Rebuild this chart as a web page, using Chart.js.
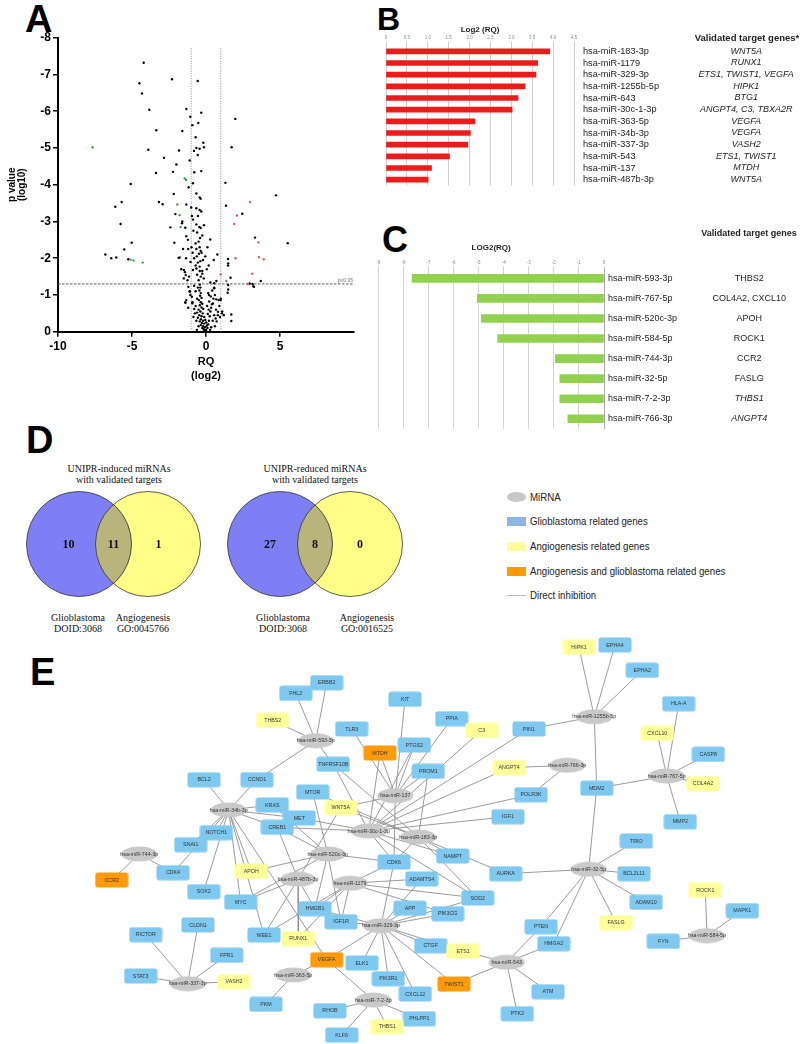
<!DOCTYPE html>
<html>
<head>
<meta charset="utf-8">
<script src="https://cdn.jsdelivr.net/npm/chart.js@4.4.0/dist/chart.umd.min.js"></script>
<style>
body{margin:0;background:#fff;width:800px;height:1044px;position:relative;overflow:hidden;font-family:"Liberation Sans",Arial,sans-serif;color:#222;}
canvas{position:absolute;}
.letter{position:absolute;font-weight:bold;line-height:1;color:#000;font-family:"Liberation Sans",Arial,sans-serif;}
.t{position:absolute;white-space:nowrap;transform:translate(-50%,-50%);}
.serif{font-family:"Liberation Serif","Times New Roman",serif;font-size:10px;color:#111;}
.hdr{font-weight:bold;}
.leg{position:absolute;left:507px;font-size:11px;font-family:"Liberation Sans Narrow","Liberation Sans",Arial,sans-serif;color:#222;}
.leg i{position:absolute;left:0;display:block;}
.leg span{position:absolute;left:23px;white-space:nowrap;transform:translateY(-50%) scaleX(0.88);transform-origin:left center;}
</style>
</head>
<body>

<div class="letter" style="left:25px;top:0px;font-size:38px;">A</div>
<div class="letter" style="left:377px;top:3px;font-size:32px;">B</div>
<div class="letter" style="left:382px;top:222px;font-size:36px;">C</div>
<div class="letter" style="left:26px;top:421px;font-size:38px;">D</div>
<div class="letter" style="left:30px;top:653px;font-size:38px;">E</div>

<canvas id="volcano" width="370" height="385" style="left:0;top:0;"></canvas>
<canvas id="barsUp" width="430" height="200" style="left:370px;top:0;"></canvas>
<canvas id="barsDown" width="440" height="220" style="left:360px;top:220px;"></canvas>
<canvas id="venn" width="420" height="120" style="left:0;top:485px;"></canvas>
<canvas id="network" width="690" height="409" style="left:90px;top:635px;"></canvas>

<div class="t hdr" style="left:747px;top:37px;font-size:9.5px;">Validated target genes*</div>
<div class="t hdr" style="left:749px;top:233px;font-size:9px;">Validated target genes</div>

<div class="t serif" style="left:119px;top:468px;">UNIPR-induced miRNAs</div>
<div class="t serif" style="left:119px;top:479px;">with validated targets</div>
<div class="t serif" style="left:315px;top:468px;">UNIPR-reduced miRNAs</div>
<div class="t serif" style="left:315px;top:479px;">with validated targets</div>
<div class="t serif" style="left:78px;top:617px;">Glioblastoma</div>
<div class="t serif" style="left:78px;top:628px;">DOID:3068</div>
<div class="t serif" style="left:143px;top:617px;">Angiogenesis</div>
<div class="t serif" style="left:143px;top:628px;">GO:0045766</div>
<div class="t serif" style="left:283px;top:617px;">Glioblastoma</div>
<div class="t serif" style="left:283px;top:628px;">DOID:3068</div>
<div class="t serif" style="left:367px;top:617px;">Angiogenesis</div>
<div class="t serif" style="left:367px;top:628px;">GO:0016525</div>

<div class="leg" style="top:497px;"><i style="top:-5px;width:19px;height:10px;border-radius:50%;background:#c8c8c8;"></i><span>MiRNA</span></div>
<div class="leg" style="top:521px;"><i style="top:-4px;width:19px;height:9px;background:#8db4e2;"></i><span>Glioblastoma related genes</span></div>
<div class="leg" style="top:546px;"><i style="top:-4px;width:19px;height:9px;background:#ffff99;"></i><span>Angiogenesis related genes</span></div>
<div class="leg" style="top:571px;"><i style="top:-4px;width:19px;height:9px;background:#ff9900;"></i><span>Angiogenesis and glioblastoma related genes</span></div>
<div class="leg" style="top:595px;"><i style="top:0;width:19px;height:1px;background:#bbb;"></i><span>Direct inhibition</span></div>

<script>
// ---------- A: volcano (RQ log2 vs p value log10) ----------
const volcanoBlack = [
 [-4.21,-7.32],[-4.5,-6.76],[-4.32,-6.48],[-2.30,-6.87],[-0.56,-6.82],[-3.83,-6.04],[-1.33,-6.06],[-0.32,-5.96],
 [1.98,-5.79],[-1.06,-5.85],[-0.52,-5.68],[-0.92,-5.62],[-3.36,-5.48],[-1.60,-5.46],[-0.70,-5.29],[-0.18,-5.14],
 [-3.90,-4.95],[-1.82,-4.93],[-0.65,-5.0],[-0.43,-4.98],[-0.14,-5.02],[-0.81,-4.92],[-0.56,-4.81],[1.73,-5.02],
 [-2.84,-4.73],[-1.10,-4.66],[-2.0,-4.55],[-2.23,-4.35],[-3.38,-4.32],[-0.79,-4.34],[-0.32,-4.37],[-0.88,-4.04],
 [-5.09,-4.02],[1.31,-4.05],[-1.17,-3.93],[4.73,-3.71],[-2.18,-3.75],[-0.65,-3.76],[-0.43,-3.65],[-0.36,-3.62],
 [-5.70,-3.53],[-6.13,-3.40],[-3.18,-3.53],[-2.93,-3.47],[-1.33,-3.46],[1.35,-3.43],[-1.0,-3.38],[-0.65,-3.36],
 [-0.43,-3.31],[-0.32,-3.27],[2.45,-3.21],[-2.07,-3.20],[-0.95,-3.15],[-0.54,-3.15],[-1.6,-3.0],[-1.62,-2.95],
 [-5.77,-2.93],[-2.41,-2.84],[-1.40,-2.83],[-0.88,-3.05],[-0.65,-2.92],[-0.36,-2.82],[-0.14,-2.9],[3.31,-2.56],
 [5.52,-2.41],[0.29,-2.51],[-5.02,-2.42],[-2.14,-2.42],[-1.33,-2.6],[-1.22,-2.5],[-1.55,-2.25],[-1.2,-2.25],
 [-0.98,-2.3],[-0.65,-2.25],[-0.43,-2.3],[-0.36,-2.2],[-5.52,-2.24],[-6.8,-2.10],[-6.06,-2.02],[-6.4,-2.0],
 [-5.25,-1.97],[-1.85,-2.01],[0.77,-2.10],[0.52,-1.95],[1.49,-1.98],[1.49,-1.8],[0.18,-1.8],[-1.67,-1.7],
 [-1.42,-1.62],[-0.88,-1.68],[-0.65,-1.72],[-0.43,-1.77],[-0.25,-1.65],[1.66,-1.47],[0.7,-1.38],[0.55,-1.32],
 [3.2,-1.24],[3.7,-1.38],[3.15,-1.3],[-1.78,-2.02],[-1.49,-1.68],[-1.37,-1.54],[-1.19,-1.22],[-1.10,-1.09],
 [-1.06,-1.0],[-1.33,-0.86],[-1.4,-0.79],[-0.92,-0.77],[0.29,-1.34],[0.56,-1.18],[0.2,-1.0],[0.7,-0.88],
 [0.86,-0.86],[0.47,-0.77],[0.81,-0.54],[0.65,-0.36],[1.08,-0.5],[0.99,-0.86],[1.5,-1.27],[1.5,-1.15],
 [1.46,-1.06],[1.71,-0.47],[1.71,-0.29],[2.95,-1.31],[3.24,-1.22],[1.5,-1.86],
 [-0.42,-1.28],[-0.38,-1.2],[-0.45,-1.12],[-0.35,-1.05],[-0.4,-0.98],[-0.3,-0.92],[-0.48,-0.86],[-0.36,-0.8],
 [-0.25,-0.76],[-0.42,-0.72],[-0.3,-0.66],[-0.18,-0.62],[-0.5,-0.6],[-0.38,-0.55],[-0.22,-0.5],[-0.6,-0.52],
 [-0.45,-0.45],[-0.3,-0.42],[-0.12,-0.4],[-0.55,-0.38],[-0.35,-0.34],[-0.2,-0.3],[-0.05,-0.32],[-0.42,-0.28],
 [-0.28,-0.24],[-0.12,-0.22],[0.02,-0.25],[-0.35,-0.18],[-0.2,-0.15],[-0.08,-0.12],[0.05,-0.16],[-0.25,-0.1],
 [-0.15,-0.07],[0.0,-0.05],[0.1,-0.1],[-0.05,-0.02],[0.03,-0.01],[-0.1,-0.04],[0.15,-0.2],[0.2,-0.3],
 [0.25,-0.42],[0.12,-0.48],[0.3,-0.55],[0.18,-0.6],[0.35,-0.65],[0.08,-0.7],[0.4,-0.75],[0.22,-0.82],
 [0.5,-0.9],[0.32,-0.96],[0.6,-1.0],[0.15,-1.05],[0.42,-1.12],[0.55,-1.2],[-0.7,-0.7],[-0.75,-0.5],
 [-0.85,-0.4],[-0.65,-0.3],[-0.8,-0.62],[-0.92,-0.8],[-0.6,-0.9],[-0.7,-1.1],[-0.55,-1.2],[-0.8,-1.25],
 [-0.95,-0.95],[-1.1,-1.1],[-1.2,-0.65],[-1.4,-0.8],[0.45,-0.3],[0.55,-0.45],[0.68,-0.6],[0.72,-0.28],
 [0.8,-0.45],[0.6,-0.15],[0.35,-0.12],[0.28,-0.05],[-0.5,-0.15],[-0.62,-0.05],[0.9,-0.7],[1.0,-0.9],
 [1.1,-0.55],[0.95,-0.4],[1.2,-0.45],
 [-0.5,-1.4],[-0.35,-1.5],[-0.6,-1.55],[-0.25,-1.58],[-0.42,-1.65],[-0.7,-1.8],[-0.55,-1.88],[-0.38,-1.92],
 [-0.2,-1.95],[-0.8,-2.0],[-0.62,-2.05],[-0.48,-2.12],[-0.3,-2.15],[-0.9,-2.15],[-0.7,-2.4],[-0.5,-2.45],
 [-0.4,-2.55],[-0.25,-2.62],[-0.6,-2.7],[-0.85,-2.75],[-0.45,-2.85],[-1.05,-1.9],[-1.15,-1.5],[-1.25,-1.4],
 [-0.15,-1.45],[0.05,-1.7],[-0.05,-2.05],[0.1,-2.3],[-1.35,-2.0],[-1.5,-1.45]
];
const volcanoGreen = [[-7.66,-5.02],[-1.44,-4.17],[-1.35,-4.13],[-1.94,-3.46],[-1.78,-3.17],[-1.72,-2.85],
 [-5.09,-1.96],[-4.89,-1.94],[-4.28,-1.88]];
const volcanoRed = [[2.97,-3.53],[2.09,-3.16],[1.91,-2.93],[3.54,-2.43],[2.0,-2.0],[3.58,-2.03],[3.9,-1.97],
 [3.13,-1.58],[0.99,-1.56],[1.37,-1.38],[2.82,-1.3]];
const foldCut = [-1, 1];
const pCut = -1.3;
const volcanoXTicks = [-10, -5, 0, 5];

// ---------- B: UNIPR-induced miRNAs ----------
const upMirnas = ['hsa-miR-183-3p','hsa-miR-1179','hsa-miR-329-3p','hsa-miR-1255b-5p','hsa-miR-643','hsa-miR-30c-1-3p',
 'hsa-miR-363-5p','hsa-miR-34b-3p','hsa-miR-337-3p','hsa-miR-543','hsa-miR-137','hsa-miR-487b-3p'];
const upLog2RQ = [3.92, 3.63, 3.59, 3.33, 3.16, 3.02, 2.13, 2.02, 1.96, 1.52, 1.09, 1.01];
const upTargets = ['WNT5A','RUNX1','ETS1, TWIST1, VEGFA','HIPK1','BTG1','ANGPT4, C3, TBXA2R','VEGFA','VEGFA','VASH2',
 'ETS1, TWIST1','MTDH','WNT5A'];

// ---------- C: UNIPR-reduced miRNAs ----------
const downMirnas = ['hsa-miR-593-3p','hsa-miR-767-5p','hsa-miR-520c-3p','hsa-miR-584-5p','hsa-miR-744-3p',
 'hsa-miR-32-5p','hsa-miR-7-2-3p','hsa-miR-766-3p'];
const downLog2RQ = [-7.65, -5.05, -4.89, -4.24, -1.94, -1.76, -1.76, -1.44];
const downTargets = ['THBS2','COL4A2, CXCL10','APOH','ROCK1','CCR2','FASLG','THBS1','ANGPT4'];
const downTargetsItalic = [false, false, false, false, false, false, true, true];

// ---------- D: Venn counts [glioblastoma only, both, angiogenesis only] ----------
const vennCounts = [[10, 11, 1], [27, 8, 0]];

// ---------- E: network ----------
const mirnaNodes = ['hsa-miR-593-3p','hsa-miR-137','hsa-miR-34b-3p','hsa-miR-30c-1-3p','hsa-miR-183-3p',
 'hsa-miR-1255b-5p','hsa-miR-766-3p','hsa-miR-767-5p','hsa-miR-744-3p','hsa-miR-520c-3p','hsa-miR-487b-3p',
 'hsa-miR-1179','hsa-miR-329-3p','hsa-miR-337-3p','hsa-miR-363-5p','hsa-miR-7-2-3p','hsa-miR-32-5p',
 'hsa-miR-543','hsa-miR-584-5p'];
const glioGenes = ['ERBB2','FHL2','KIT','TLR3','PTGS2','PPIA','TNFRSF10B','PROM1','BCL2','CCND1','MTOR','KRAS','MET',
 'CREB1','NOTCH1','EPHA4','EPHA2','HLA-A','PIN1','CASP8','MDM2','POLR3K','IGF1','MMP2','TRIO','SNAI1','CDK4','SOX2',
 'MYC','CDK6','ADAMTS4','HMGB1','APP','IGF1R','CLDN1','RICTOR','WEE1','FPR1','CTGF','ELK1','STAT3','PIK3R1','CXCL12',
 'PKM','RHOB','PHLPP1','KLF6','NAMPT','AURKA','BCL2L11','SOD2','ADAM10','PIK3CG','MAPK1','PTEN','HMGA2','FYN','ATM','PTK2'];
const angioGenes = ['THBS2','C3','WNT5A','HIPK1','CXCL10','ANGPT4','COL4A2','APOH','RUNX1','VASH2','THBS1','ETS1','ROCK1','FASLG'];
const bothGenes = ['MTDH','CCR2','VEGFA','TWIST1'];

const mirTargets = {
 'hsa-miR-593-3p':['ERBB2','FHL2','THBS2','CCND1','TNFRSF10B'],
 'hsa-miR-137':['MTDH','TLR3','KIT','PTGS2','PPIA','PROM1','WNT5A','CDK6'],
 'hsa-miR-30c-1-3p':['C3','PIN1','ANGPT4','POLR3K','IGF1','MTDH','PTGS2','TNFRSF10B','MET','CREB1','CDK6','SOD2','NAMPT'],
 'hsa-miR-183-3p':['WNT5A','TNFRSF10B','PROM1','CDK6','NAMPT','SOD2','AURKA','MTOR'],
 'hsa-miR-34b-3p':['BCL2','CCND1','KRAS','MET','CREB1','NOTCH1','SNAI1','CDK4','SOX2','MYC','APOH','WEE1','VEGFA'],
 'hsa-miR-744-3p':['CCR2','CDK4'],
 'hsa-miR-520c-3p':['APOH','MTOR','CREB1','HMGB1','IGF1R','CDK6','KRAS','MYC'],
 'hsa-miR-487b-3p':['WNT5A','MYC','WEE1','HMGB1','CREB1','RUNX1'],
 'hsa-miR-1179':['RUNX1','CDK6','ADAMTS4','HMGB1','IGF1R','SOD2','PIK3CG','WEE1'],
 'hsa-miR-329-3p':['ETS1','TWIST1','VEGFA','CDK6','APP','PIK3CG','CTGF','ELK1','PIK3R1','CXCL12','IGF1R','SOD2','ADAMTS4','HMGB1'],
 'hsa-miR-363-5p':['VEGFA','PKM'],
 'hsa-miR-7-2-3p':['VEGFA','RHOB','KLF6','THBS1','PHLPP1'],
 'hsa-miR-337-3p':['RICTOR','CLDN1','FPR1','STAT3','VASH2'],
 'hsa-miR-543':['ETS1','TWIST1','PTEN','HMGA2','ATM','PTK2'],
 'hsa-miR-32-5p':['MDM2','TRIO','BCL2L11','ADAM10','FASLG','AURKA','PTEN','HMGA2'],
 'hsa-miR-1255b-5p':['HIPK1','EPHA4','EPHA2','PIN1','MDM2'],
 'hsa-miR-767-5p':['HLA-A','CXCL10','CASP8','COL4A2','MMP2','MDM2'],
 'hsa-miR-766-3p':['ANGPT4','POLR3K'],
 'hsa-miR-584-5p':['ROCK1','MAPK1','FYN']
};

// layout of the network drawing (layout units, y downwards)
const nodeLayout = {
 'hsa-miR-593-3p':[225.7,105.7],'hsa-miR-137':[305.3,160.7],'hsa-miR-34b-3p':[138.7,175],'hsa-miR-30c-1-3p':[278.7,196],
 'hsa-miR-183-3p':[328.3,202],'hsa-miR-1255b-5p':[504.3,81.7],'hsa-miR-766-3p':[477.3,130.3],'hsa-miR-767-5p':[576.7,141],
 'hsa-miR-744-3p':[49.3,219],'hsa-miR-520c-3p':[237.7,219],'hsa-miR-487b-3p':[208,244.3],'hsa-miR-1179':[260,248.3],
 'hsa-miR-329-3p':[291,290.7],'hsa-miR-337-3p':[97.7,348.7],'hsa-miR-363-5p':[203.3,340],'hsa-miR-7-2-3p':[283.3,365],
 'hsa-miR-32-5p':[498.7,234.3],'hsa-miR-543':[416.7,327.3],'hsa-miR-584-5p':[617,300.7],
 'ERBB2':[236.7,47.7],'FHL2':[205.7,58.3],'THBS2':[182.7,85.3],'KIT':[315,64.3],'TLR3':[261.7,94],'MTDH':[290,118],
 'PTGS2':[324.3,110],'PPIA':[361.7,83.7],'TNFRSF10B':[243.3,129.3],'PROM1':[338.3,136.3],'BCL2':[114,144.7],
 'CCND1':[167,144.7],'MTOR':[222.7,157],'KRAS':[182.3,170],'WNT5A':[250.7,172.7],'MET':[209.3,183],'CREB1':[187.3,192.3],
 'NOTCH1':[126.3,197.7],'HIPK1':[489,12.3],'EPHA4':[525,10],'EPHA2':[552.3,35.3],'HLA-A':[588.7,68.7],'C3':[391.7,95.3],
 'PIN1':[439,94],'CXCL10':[567.3,98.3],'CASP8':[618.3,119.3],'ANGPT4':[419,132.7],'COL4A2':[613,148.7],'MDM2':[506.7,153.3],
 'POLR3K':[441,159.7],'IGF1':[418,181.7],'MMP2':[590.3,186.7],'TRIO':[546.3,206],'SNAI1':[100.7,209.7],'CDK4':[83,237.7],
 'CCR2':[21.7,245],'SOX2':[113.7,256.7],'APOH':[161.3,236.3],'MYC':[150.7,267],'CDK6':[304,227],'ADAMTS4':[331.7,244],
 'HMGB1':[225,273.7],'APP':[320,273.3],'IGF1R':[251,286.7],'CLDN1':[108,290],'RICTOR':[55.7,299.7],'WEE1':[174,300],
 'RUNX1':[208.3,303.7],'FPR1':[136.7,320.3],'CTGF':[340.7,310.7],'VEGFA':[236.7,324.7],'ELK1':[272,328],'STAT3':[50.7,341],
 'VASH2':[144,346.7],'PIK3R1':[298.3,343.7],'CXCL12':[325.3,359],'TWIST1':[364,349],'PKM':[176,369.3],'RHOB':[240,375.7],
 'PHLPP1':[329.3,383.7],'THBS1':[297.3,391.7],'KLF6':[251.7,400],'NAMPT':[362.7,221],'AURKA':[415.7,238.7],
 'BCL2L11':[544,238.7],'SOD2':[387.7,263],'ADAM10':[556,267.3],'PIK3CG':[357.7,278.7],'ROCK1':[615.3,255.3],
 'MAPK1':[652.3,275.7],'FASLG':[526,287.7],'PTEN':[451,291.7],'HMGA2':[463.7,308.7],'FYN':[573.3,306.3],'ETS1':[373,316.3],
 'ATM':[458,356.7],'PTK2':[427.3,378.7]
};

const noAnim = {responsive:false, animation:false, events:[], plugins:{legend:{display:false}, tooltip:{enabled:false}}};

// ===== A =====
const pLabel = {
  id:'pLabel',
  afterDatasetsDraw(chart){
    const {ctx, scales:{x, y}} = chart;
    ctx.save();
    ctx.font = '5px "Liberation Sans", Arial';
    ctx.fillStyle = '#777';
    ctx.textAlign = 'right';
    ctx.textBaseline = 'bottom';
    ctx.fillText('p\u22640.05', x.getPixelForValue(10) - 1, y.getPixelForValue(pCut) - 0.5);
    ctx.restore();
  }
};
const toXY = a => a.map(p => ({x:p[0], y:p[1]}));
new Chart(document.getElementById('volcano'), {
  type:'scatter',
  data:{datasets:[
    {data:toXY(volcanoGreen), backgroundColor:'#3aa83a', pointRadius:1.2, borderWidth:0},
    {data:toXY(volcanoRed), backgroundColor:'#e05a5a', pointRadius:1.2, borderWidth:0},
    {data:toXY(volcanoBlack), backgroundColor:'#000', pointRadius:1.2, borderWidth:0},
    {data:[{x:foldCut[0],y:0},{x:foldCut[0],y:-7.72}], showLine:true, pointRadius:0, borderColor:'#888', borderWidth:1, borderDash:[1,1.5]},
    {data:[{x:foldCut[1],y:0},{x:foldCut[1],y:-7.72}], showLine:true, pointRadius:0, borderColor:'#888', borderWidth:1, borderDash:[1,1.5]},
    {data:[{x:-10,y:pCut},{x:10,y:pCut}], showLine:true, pointRadius:0, borderColor:'#555', borderWidth:1, borderDash:[2.5,1.5]}
  ]},
  options:{...noAnim,
    layout:{padding:{left:0, right:16, top:37.7, bottom:0}},
    scales:{
      x:{type:'linear', min:-10, max:10,
         afterBuildTicks:s => { s.ticks = volcanoXTicks.map(v => ({value:v})); },
         ticks:{color:'#000', font:{size:12, weight:'bold'}, padding:3},
         grid:{display:true, drawOnChartArea:false, tickLength:5, color:'#000', lineWidth:1.5},
         border:{display:true, color:'#000', width:2},
         title:{display:true, text:['RQ','(log2)'], color:'#000', font:{size:11, weight:'bold', lineHeight:1.25}, padding:{top:0, bottom:2}},
         afterFit:s => { s.height = 53.3; }},
      y:{type:'linear', min:-8, max:0, reverse:true,
         ticks:{stepSize:1, color:'#000', font:{size:12, weight:'bold'}, padding:2},
         grid:{display:true, drawOnChartArea:false, tickLength:5, color:'#000', lineWidth:1.5},
         border:{display:true, color:'#000', width:2},
         title:{display:true, text:['p value','(log10)'], color:'#000', font:{size:10, weight:'bold', lineHeight:0.95}, padding:{top:7.5, bottom:0}},
         afterFit:s => { s.width = 58; }}
    }
  },
  plugins:[pLabel]
});

// ===== B =====
new Chart(document.getElementById('barsUp'), {
  type:'bar',
  data:{labels:upMirnas, datasets:[{data:upLog2RQ, backgroundColor:'#ee1b1b', barThickness:5, yAxisID:'y'}]},
  options:{...noAnim, indexAxis:'y',
    layout:{padding:{left:16, right:0, top:0, bottom:6.5}},
    scales:{
      x:{position:'top', min:0, max:4.5,
         ticks:{stepSize:0.5, color:'#888', font:{size:4.5}, padding:1, maxRotation:0},
         grid:{color:'#cfcfcf', tickLength:4}, border:{display:false},
         title:{display:true, text:'Log2 (RQ)', color:'#222', font:{size:8, weight:'bold'}, padding:{top:25, bottom:0}},
         afterFit:s => { s.height = 45.5; }},
      y:{position:'right', grid:{display:false, drawTicks:false}, border:{display:false},
         ticks:{color:'#222', font:{size:9.2}, padding:9, autoSkip:false},
         afterFit:s => { s.width = 121.5; }},
      genes:{type:'category', axis:'y', position:'right', weight:1, offset:true, labels:upTargets,
         grid:{display:false, drawTicks:false}, border:{display:false},
         ticks:{crossAlign:'center', color:'#222', font:{size:9, style:'italic'}, padding:3, autoSkip:false},
         afterFit:s => { s.width = 104.5; }}
    }
  }
});

// ===== C =====
new Chart(document.getElementById('barsDown'), {
  type:'bar',
  data:{labels:downMirnas, datasets:[{data:downLog2RQ, backgroundColor:'#92d050', barThickness:8, yAxisID:'y'}]},
  options:{...noAnim, indexAxis:'y',
    layout:{padding:{left:18.3, right:0, top:0, bottom:11.2}},
    scales:{
      x:{position:'top', min:-9, max:0,
         ticks:{stepSize:1, color:'#888', font:{size:4.5}, padding:1, maxRotation:0},
         grid:{color:'#d4d4d4', tickLength:2}, border:{display:false},
         title:{display:true, text:'LOG2(RQ)', color:'#222', font:{size:8, weight:'bold'}, padding:{top:23, bottom:0}},
         afterFit:s => { s.height = 48.3; }},
      y:{position:'right', grid:{display:false, drawTicks:false}, border:{display:true, color:'#a8a8a8', width:1},
         ticks:{color:'#222', font:{size:9}, padding:4, autoSkip:false},
         afterFit:s => { s.width = 105.5; }},
      genes:{type:'category', axis:'y', position:'right', weight:1, offset:true, labels:downTargets,
         grid:{display:false, drawTicks:false}, border:{display:false},
         ticks:{crossAlign:'center', color:'#222', autoSkip:false, padding:3,
                font:c => ({size:9, style: downTargetsItalic[c.index] ? 'italic' : 'normal'})},
         afterFit:s => { s.width = 90.5; }}
    }
  }
});

// ===== D =====
const vennLayout = {blueX:[79, 280], yellowX:[148, 350], y:59, r:52.5};
const vennPlugin = {
  id:'vennLens',
  afterDatasetsDraw(chart){
    const ctx = chart.ctx;
    const blue = chart.getDatasetMeta(0).data, yel = chart.getDatasetMeta(1).data;
    vennCounts.forEach((counts, i) => {
      const b = blue[i], yv = yel[i], r = b.options.radius;
      ctx.save();
      ctx.beginPath(); ctx.arc(b.x, b.y, r, 0, Math.PI*2); ctx.clip();
      ctx.beginPath(); ctx.arc(yv.x, yv.y, r, 0, Math.PI*2);
      ctx.fillStyle = '#b8b47c'; ctx.fill();
      ctx.restore();
      ctx.save();
      ctx.strokeStyle = '#333'; ctx.lineWidth = 0.8;
      ctx.beginPath(); ctx.arc(b.x, b.y, r, 0, Math.PI*2); ctx.stroke();
      ctx.beginPath(); ctx.arc(yv.x, yv.y, r, 0, Math.PI*2); ctx.stroke();
      ctx.fillStyle = '#111';
      ctx.font = 'bold 12px "Liberation Serif", "Times New Roman", serif';
      ctx.textAlign = 'center'; ctx.textBaseline = 'middle';
      const mid = (b.x + yv.x) / 2;
      const xs = [mid - 45, mid, mid + 45];
      counts.forEach((c, k) => ctx.fillText(String(c), xs[k], b.y + 1));
      ctx.restore();
    });
  }
};
new Chart(document.getElementById('venn'), {
  type:'bubble',
  data:{datasets:[
    {data:vennLayout.blueX.map(x => ({x, y:vennLayout.y, r:vennLayout.r})), backgroundColor:'#7f7ff5', borderWidth:0, clip:false},
    {data:vennLayout.yellowX.map(x => ({x, y:vennLayout.y, r:vennLayout.r})), backgroundColor:'#ffff88', borderWidth:0, clip:false}
  ]},
  options:{...noAnim, layout:{padding:0, autoPadding:false},
    scales:{x:{display:false, min:0, max:420}, y:{display:false, min:0, max:120, reverse:true}}},
  plugins:[vennPlugin]
});

// ===== E =====
const nodeOrder = [...mirnaNodes, ...glioGenes, ...angioGenes, ...bothGenes];
const nodeKind = n => mirnaNodes.includes(n) ? 'mir' : angioGenes.includes(n) ? 'angio' : bothGenes.includes(n) ? 'both' : 'glio';
const kindFill = {mir:'#c9c9c9', glio:'#7fc8f0', angio:'#ffff99', both:'#ff9a0a'};
function nodeImage(kind){
  const c = document.createElement('canvas');
  let g;
  if (kind === 'mir') {
    c.width = 37; c.height = 16; g = c.getContext('2d'); g.fillStyle = kindFill[kind];
    g.beginPath(); g.ellipse(18.5, 8, 18, 7.6, 0, 0, Math.PI*2); g.fill();
  } else {
    c.width = 34; c.height = 16; g = c.getContext('2d'); g.fillStyle = kindFill[kind];
    g.beginPath();
    if (g.roundRect) g.roundRect(0.5, 0.5, 33, 15, 2.5); else g.rect(0.5, 0.5, 33, 15);
    g.fill();
  }
  return c;
}
const nodeImages = {mir:nodeImage('mir'), glio:nodeImage('glio'), angio:nodeImage('angio'), both:nodeImage('both')};
const pos = n => ({x:nodeLayout[n][0], y:nodeLayout[n][1]});

const edgeSets = [];
Object.keys(mirTargets).forEach(m => mirTargets[m].forEach(g => {
  edgeSets.push({data:[pos(m), pos(g)], showLine:true, pointRadius:0, borderColor:'#8e8e8e', borderWidth:0.9, clip:false});
}));

const nodeLabels = {
  id:'nodeLabels',
  afterDatasetsDraw(chart){
    const ctx = chart.ctx;
    ctx.save();
    ctx.font = '5.3px "Liberation Sans", Arial';
    ctx.fillStyle = '#333';
    ctx.textAlign = 'center'; ctx.textBaseline = 'middle';
    chart.getDatasetMeta(0).data.forEach((pt, i) => ctx.fillText(nodeOrder[i], pt.x, pt.y + 0.3));
    ctx.restore();
  }
};
new Chart(document.getElementById('network'), {
  type:'scatter',
  data:{datasets:[
    {data:nodeOrder.map(pos), pointStyle:c => nodeImages[nodeKind(nodeOrder[c.dataIndex])], pointRadius:8, clip:false},
    ...edgeSets
  ]},
  options:{...noAnim, layout:{padding:0, autoPadding:false},
    scales:{x:{display:false, min:0, max:690}, y:{display:false, min:0, max:409, reverse:true}}},
  plugins:[nodeLabels]
});
</script>
</body>
</html>
